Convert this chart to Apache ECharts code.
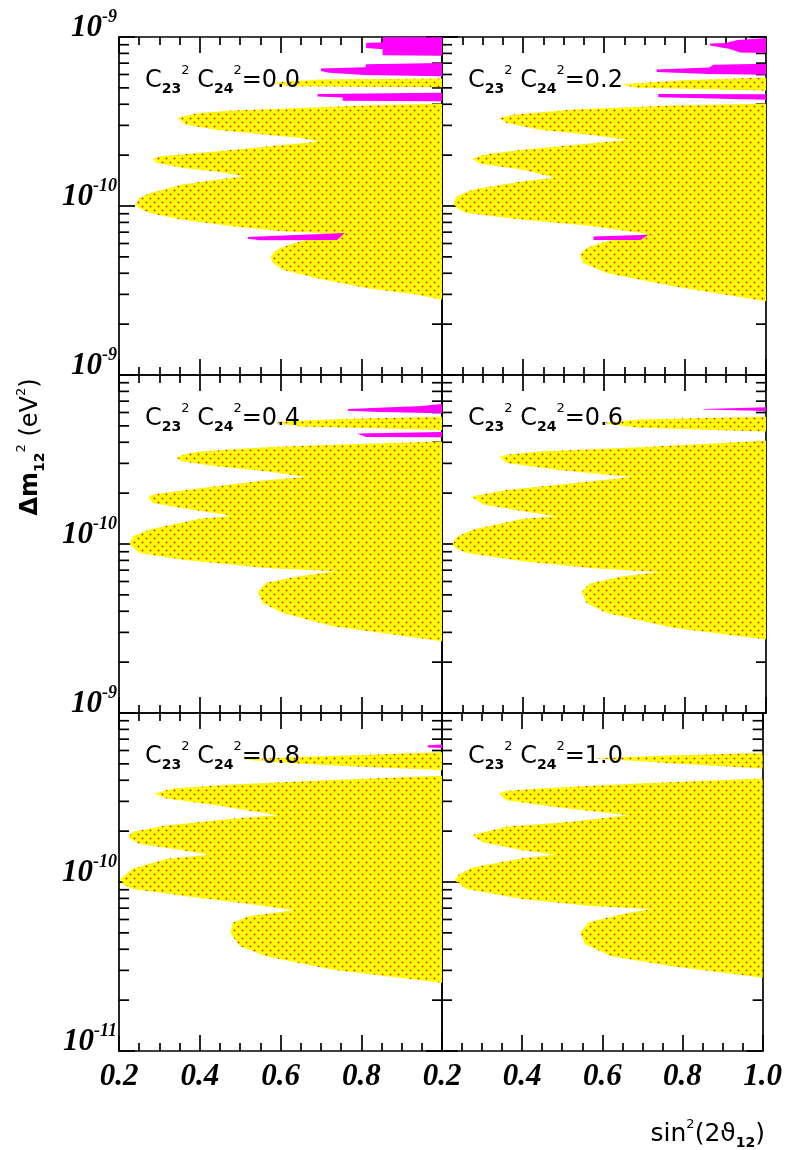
<!DOCTYPE html>
<html><head><meta charset="utf-8">
<script src="https://cdn.jsdelivr.net/npm/echarts@6/dist/echarts.min.js"></script>
<style>html,body{margin:0;padding:0;background:#fff}#c{width:785px;height:1150px}</style>
</head><body><div id="c"></div>
<script>
// ---------------- data ----------------
const panelLabels = ['0.0', '0.2', '0.4', '0.6', '0.8', '1.0'];
const xMin = 0.2, xMax = 1.0, xStep = 0.2;
const yMin = 1e-11, yMax = 1e-9;
const yMinorTicks = [2e-11,3e-11,4e-11,5e-11,6e-11,7e-11,8e-11,9e-11,2e-10,3e-10,4e-10,5e-10,6e-10,7e-10,8e-10,9e-10];

// allowed (yellow) regions, [sin^2(2theta), dm^2]
const allowed00 = [[1.0,4.03e-10],[0.812,3.93e-10],[0.647,3.80e-10],[0.482,3.67e-10],[0.400,3.55e-10],[0.367,3.42e-10],[0.346,3.32e-10],[0.354,3.17e-10],[0.367,3.03e-10],[0.441,2.83e-10],[0.565,2.64e-10],[0.647,2.53e-10],[0.697,2.41e-10],[0.647,2.34e-10],[0.523,2.20e-10],[0.400,2.06e-10],[0.301,1.97e-10],[0.284,1.90e-10],[0.292,1.80e-10],[0.358,1.68e-10],[0.441,1.60e-10],[0.511,1.50e-10],[0.441,1.43e-10],[0.358,1.34e-10],[0.276,1.19e-10],[0.251,1.12e-10],[0.241,1.02e-10],[0.251,9.7e-11],[0.276,9.1e-11],[0.358,8.3e-11],[0.482,7.6e-11],[0.606,7.1e-11],[0.754,6.8e-11],[0.688,6.5e-11],[0.631,6.0e-11],[0.589,5.5e-11],[0.575,5.0e-11],[0.581,4.6e-11],[0.606,4.2e-11],[0.688,3.75e-11],[0.812,3.27e-11],[0.936,2.99e-11],[1.0,2.79e-11]];
const band00 = [[1.0,5.68e-10],[0.70,5.60e-10],[0.60,5.42e-10],[0.58,5.30e-10],[0.62,5.12e-10],[1.0,5.05e-10]];
const allowed02 = [[1.0,4.03e-10],[0.771,3.93e-10],[0.524,3.72e-10],[0.376,3.47e-10],[0.342,3.32e-10],[0.360,3.10e-10],[0.442,2.83e-10],[0.565,2.64e-10],[0.660,2.47e-10],[0.565,2.34e-10],[0.401,2.15e-10],[0.302,2.01e-10],[0.275,1.90e-10],[0.294,1.78e-10],[0.401,1.64e-10],[0.479,1.47e-10],[0.401,1.40e-10],[0.277,1.25e-10],[0.236,1.14e-10],[0.228,1.03e-10],[0.240,9.6e-11],[0.261,9.1e-11],[0.401,8.3e-11],[0.565,7.65e-11],[0.709,6.83e-11],[0.607,6.18e-11],[0.557,5.64e-11],[0.541,5.15e-11],[0.549,4.60e-11],[0.607,4.01e-11],[0.771,3.35e-11],[1.0,2.73e-11]];
const band02 = [[1.0,5.75e-10],[0.80,5.55e-10],[0.64,5.25e-10],[0.68,5.0e-10],[1.0,4.83e-10]];
const allowed04 = [[1.0,4.04e-10],[0.730,3.86e-10],[0.565,3.74e-10],[0.400,3.53e-10],[0.358,3.37e-10],[0.342,3.25e-10],[0.358,3.08e-10],[0.441,2.88e-10],[0.565,2.69e-10],[0.664,2.49e-10],[0.565,2.38e-10],[0.400,2.14e-10],[0.284,1.96e-10],[0.272,1.90e-10],[0.284,1.75e-10],[0.358,1.63e-10],[0.466,1.49e-10],[0.474,1.46e-10],[0.400,1.41e-10],[0.276,1.22e-10],[0.235,1.11e-10],[0.226,1.0e-10],[0.251,8.85e-11],[0.358,8.08e-11],[0.565,7.22e-11],[0.738,6.9e-11],[0.647,6.44e-11],[0.565,5.89e-11],[0.544,5.21e-11],[0.556,4.48e-11],[0.606,3.91e-11],[0.730,3.26e-11],[1.0,2.66e-11]];
const band04 = [[1.0,5.67e-10],[0.75,5.5e-10],[0.60,5.3e-10],[0.589,5.18e-10],[0.65,4.95e-10],[1.0,4.72e-10]];
const allowed06 = [[1.0,4.08e-10],[0.689,3.74e-10],[0.442,3.53e-10],[0.360,3.37e-10],[0.342,3.27e-10],[0.360,3.01e-10],[0.483,2.75e-10],[0.668,2.49e-10],[0.524,2.29e-10],[0.360,2.09e-10],[0.273,1.91e-10],[0.302,1.71e-10],[0.401,1.56e-10],[0.483,1.46e-10],[0.401,1.41e-10],[0.277,1.22e-10],[0.236,1.10e-10],[0.226,1.0e-10],[0.236,9.4e-11],[0.261,8.85e-11],[0.401,7.9e-11],[0.565,7.22e-11],[0.738,6.84e-11],[0.648,6.44e-11],[0.565,5.83e-11],[0.545,5.21e-11],[0.557,4.48e-11],[0.607,3.91e-11],[0.771,3.19e-11],[1.0,2.72e-11]];
const band06 = [[1.0,5.67e-10],[0.69,5.45e-10],[0.59,5.2e-10],[0.69,4.88e-10],[1.0,4.63e-10]];
const allowed08 = [[1.0,4.26e-10],[0.730,4.01e-10],[0.482,3.78e-10],[0.334,3.58e-10],[0.288,3.34e-10],[0.317,3.12e-10],[0.441,2.85e-10],[0.594,2.48e-10],[0.482,2.37e-10],[0.317,2.16e-10],[0.235,1.98e-10],[0.222,1.84e-10],[0.251,1.68e-10],[0.358,1.54e-10],[0.424,1.45e-10],[0.317,1.37e-10],[0.235,1.20e-10],[0.203,1.04e-10],[0.212,9.6e-11],[0.235,9.08e-11],[0.358,8.29e-11],[0.523,7.4e-11],[0.635,6.81e-11],[0.523,6.3e-11],[0.482,5.75e-11],[0.476,5.01e-11],[0.499,4.18e-11],[0.565,3.64e-11],[0.730,3.03e-11],[1.0,2.53e-11]];
const band08 = [[1.0,5.86e-10],[0.8,5.65e-10],[0.647,5.5e-10],[0.507,5.3e-10],[0.647,5.0e-10],[0.8,4.8e-10],[1.0,4.6e-10]];
const allowed10 = [[1.0,4.1e-10],[0.689,3.83e-10],[0.442,3.58e-10],[0.360,3.45e-10],[0.342,3.34e-10],[0.360,3.05e-10],[0.483,2.78e-10],[0.664,2.48e-10],[0.524,2.27e-10],[0.360,2.12e-10],[0.275,1.89e-10],[0.302,1.72e-10],[0.401,1.54e-10],[0.483,1.45e-10],[0.401,1.38e-10],[0.277,1.22e-10],[0.240,1.10e-10],[0.232,1.02e-10],[0.261,9.08e-11],[0.401,7.92e-11],[0.565,7.23e-11],[0.722,6.91e-11],[0.648,6.45e-11],[0.565,5.75e-11],[0.545,5.01e-11],[0.557,4.28e-11],[0.623,3.64e-11],[0.771,3.18e-11],[1.0,2.71e-11]];
const band10 = [[1.0,5.8e-10],[0.77,5.6e-10],[0.58,5.4e-10],[0.77,5.05e-10],[1.0,4.7e-10]];

// excluded (magenta) regions
const excl00a = [[0.853,9.95e-10],[1.0,9.95e-10],[1.0,7.75e-10],[0.853,7.8e-10],[0.853,8.45e-10],[0.812,8.6e-10],[0.812,9.2e-10],[0.853,9.3e-10]];
const excl00b = [[0.70,6.5e-10],[0.81,6.62e-10],[0.812,6.9e-10],[1.0,7.02e-10],[1.0,5.85e-10],[0.81,5.95e-10],[0.72,6.15e-10],[0.70,6.3e-10]];
const excl00c = [[0.692,4.6e-10],[1.0,4.68e-10],[1.0,4.17e-10],[0.754,4.2e-10],[0.754,4.38e-10],[0.692,4.45e-10]];
const excl00d = [[0.519,6.55e-11],[0.759,6.92e-11],[0.74,6.3e-11],[0.55,6.28e-11],[0.519,6.4e-11]];
const excl02a = [[0.862,9.15e-10],[0.90,9.2e-10],[0.93,9.6e-10],[1.0,9.85e-10],[1.0,8.05e-10],[0.936,8.1e-10],[0.911,8.5e-10],[0.862,8.9e-10]];
const excl02b = [[0.73,6.42e-10],[0.86,6.6e-10],[0.87,6.85e-10],[1.0,6.95e-10],[1.0,5.98e-10],[0.86,6.05e-10],[0.73,6.2e-10]];
const excl02c = [[0.734,4.6e-10],[1.0,4.58e-10],[1.0,4.26e-10],[0.734,4.4e-10]];
const excl02d = [[0.574,6.6e-11],[0.71,6.75e-11],[0.69,6.3e-11],[0.574,6.3e-11]];
const excl04a = [[0.767,6.3e-10],[0.95,6.55e-10],[1.0,6.74e-10],[1.0,5.94e-10],[0.85,6.05e-10],[0.767,6.14e-10]];
const excl04b = [[0.79,4.5e-10],[1.0,4.6e-10],[1.0,4.28e-10],[0.812,4.3e-10]];
const excl06a = [[0.845,6.3e-10],[1.0,6.44e-10],[1.0,6.13e-10],[0.9,6.2e-10],[0.845,6.25e-10]];
const excl08a = [[0.965,6.45e-10],[1.0,6.5e-10],[1.0,6.2e-10],[0.965,6.25e-10]];

const panels = [
  {label: panelLabels[0], allowed: [allowed00, band00], excluded: [excl00a, excl00b, excl00c, excl00d]},
  {label: panelLabels[1], allowed: [allowed02, band02], excluded: [excl02a, excl02b, excl02c, excl02d]},
  {label: panelLabels[2], allowed: [allowed04, band04], excluded: [excl04a, excl04b]},
  {label: panelLabels[3], allowed: [allowed06, band06], excluded: [excl06a]},
  {label: panelLabels[4], allowed: [allowed08, band08], excluded: [excl08a]},
  {label: panelLabels[5], allowed: [allowed10, band10], excluded: []}
];

// ---------------- style / layout ----------------
const SANS = 'DejaVu Sans';
const SERIF = 'Liberation Serif';
const ROW_TOP = [37, 375, 713];
const ROW_H = 338;
const COL = [{left: 119, width: 323}, {left: 442, width: 324}];
const LW = 1.7;

// dotted yellow fill pattern
const tile = document.createElement('canvas');
tile.width = 8; tile.height = 8;
(function () {
  const g = tile.getContext('2d');
  g.fillStyle = '#ffff00'; g.fillRect(0, 0, 8, 8);
  function dot(x, y) {
    g.fillStyle = '#ffa000';
    g.fillRect(x - 1, y, 3, 1); g.fillRect(x, y - 1, 1, 3);
    g.fillStyle = '#ff0000'; g.fillRect(x, y, 1, 1);
  }
  dot(2, 2); dot(6, 6);
})();
const yellowFill = {image: tile, repeat: 'repeat'};
const magenta = '#ff00ff';

const grids = [], xAxes = [], yAxes = [], series = [], graphics = [];
const lineStyle = {color: '#000', width: LW};

panels.forEach((p, i) => {
  const row = Math.floor(i / 2), col = i % 2;
  grids.push({left: COL[col].left, top: ROW_TOP[row], width: COL[col].width, height: ROW_H});
  const isBottom = row === 2;
  const isLeft = col === 0;
  const xBase = {
    type: 'value', gridIndex: i, min: xMin, max: xMax, interval: xStep,
    axisLine: {show: true, onZero: false, lineStyle},
    axisTick: {show: true, inside: true, length: 16, lineStyle},
    minorTick: {show: true, splitNumber: 4, length: 8, lineStyle},
    splitLine: {show: false}
  };
  xAxes.push(Object.assign({}, xBase, {
    position: 'bottom',
    axisLabel: {
      show: isBottom, margin: 10,
      fontFamily: SERIF, fontStyle: 'italic', fontWeight: 'bold', fontSize: 31, color: '#000',
      formatter: v => (isLeft && Math.abs(v - 1) < 1e-9) ? '' : v.toFixed(1)
    }
  }));
  xAxes.push(Object.assign({}, xBase, {position: 'top', axisLabel: {show: false}}));
  const yBase = {
    type: 'log', logBase: 10, gridIndex: i, min: yMin, max: yMax,
    axisLine: {show: true, onZero: false, lineStyle},
    axisTick: {show: true, inside: true, length: 16, lineStyle},
    splitLine: {show: false}
  };
  yAxes.push(Object.assign({}, yBase, {
    position: 'left',
    axisLabel: {
      show: isLeft, margin: 2, align: 'right', verticalAlign: 'middle', padding: [0, 0, 23, 0],
      formatter: v => {
        const e = Math.round(Math.log10(v));
        if (e === -11 && !isBottom) return '';
        return '{b|10}{e|' + e + '}';
      },
      rich: {
        b: {fontFamily: SERIF, fontStyle: 'italic', fontWeight: 'bold', fontSize: 31, lineHeight: 35, verticalAlign: 'bottom', color: '#000'},
        e: {fontFamily: SERIF, fontStyle: 'italic', fontWeight: 'bold', fontSize: 18, lineHeight: 18, verticalAlign: 'top', color: '#000'}
      }
    }
  }));
  yAxes.push(Object.assign({}, yBase, {position: 'right', axisLabel: {show: false}}));

  // minor log ticks on left and right frame
  series.push({
    type: 'custom', coordinateSystem: 'cartesian2d', xAxisIndex: 2 * i, yAxisIndex: 2 * i,
    data: yMinorTicks.map(v => [xMin, v]), silent: true, animation: false, z: 1,
    renderItem: (params, api) => {
      const v = api.value(1);
      const a = api.coord([xMin, v]), b = api.coord([xMax, v]);
      return {type: 'group', children: [
        {type: 'line', shape: {x1: a[0], y1: a[1], x2: a[0] + 10, y2: a[1]}, style: {stroke: '#000', lineWidth: LW}},
        {type: 'line', shape: {x1: b[0] - 10, y1: b[1], x2: b[0], y2: b[1]}, style: {stroke: '#000', lineWidth: LW}}
      ]};
    }
  });

  function poly(pts, fill) {
    series.push({
      type: 'custom', coordinateSystem: 'cartesian2d', xAxisIndex: 2 * i, yAxisIndex: 2 * i,
      data: pts, silent: true, animation: false, clip: true,
      renderItem: (params, api) => {
        if (params.dataIndex !== 0) return null;
        return {type: 'polygon', shape: {points: pts.map(q => api.coord(q))}, style: {fill: fill, stroke: null}};
      }
    });
  }
  p.allowed.forEach(pts => poly(pts, yellowFill));
  p.excluded.forEach(pts => poly(pts, magenta));

  // panel label
  graphics.push({
    type: 'text', x: COL[col].left + 26, y: ROW_TOP[row] + 43.5, z: 100,
    style: {
      text: '{m|C}{s|23}{p|2}{m| C}{s|24}{p|2}{m|=' + p.label + '}',
      align: 'left', verticalAlign: 'middle',
      rich: {
        m: {fontFamily: SANS, fontSize: 24, lineHeight: 32, fill: '#000'},
        s: {fontFamily: SANS, fontSize: 14, fontWeight: 'bold', lineHeight: 14, verticalAlign: 'bottom', fill: '#000'},
        p: {fontFamily: SANS, fontSize: 13, lineHeight: 13, verticalAlign: 'top', fill: '#000'}
      }
    }
  });
});

// axis titles
graphics.push({
  type: 'text', x: 31, y: 447, rotation: Math.PI / 2, z: 100,
  style: {
    text: '{b|Δm}{s|12}{p|2}{m| (eV}{p|2}{m|)}',
    align: 'center', verticalAlign: 'middle',
    rich: {
      b: {fontFamily: SANS, fontSize: 24, fontWeight: 'bold', lineHeight: 32, fill: '#000'},
      m: {fontFamily: SANS, fontSize: 24, lineHeight: 32, fill: '#000'},
      s: {fontFamily: SANS, fontSize: 14, fontWeight: 'bold', lineHeight: 14, verticalAlign: 'bottom', fill: '#000'},
      p: {fontFamily: SANS, fontSize: 13, lineHeight: 13, verticalAlign: 'top', fill: '#000'}
    }
  }
});
graphics.push({
  type: 'text', x: 765, y: 1134, z: 100,
  style: {
    text: '{m|sin}{p|2}{m|(2ϑ}{s|12}{m|)}',
    align: 'right', verticalAlign: 'middle',
    rich: {
      m: {fontFamily: SANS, fontSize: 25, lineHeight: 32, fill: '#000'},
      s: {fontFamily: SANS, fontSize: 14, fontWeight: 'bold', lineHeight: 14, verticalAlign: 'bottom', fill: '#000'},
      p: {fontFamily: SANS, fontSize: 13, lineHeight: 13, verticalAlign: 'top', fill: '#000'}
    }
  }
});

const chart = echarts.init(document.getElementById('c'), null, {renderer: 'canvas'});
chart.setOption({
  animation: false,
  backgroundColor: '#fff',
  grid: grids, xAxis: xAxes, yAxis: yAxes, series: series, graphic: graphics
});
</script></body></html>
